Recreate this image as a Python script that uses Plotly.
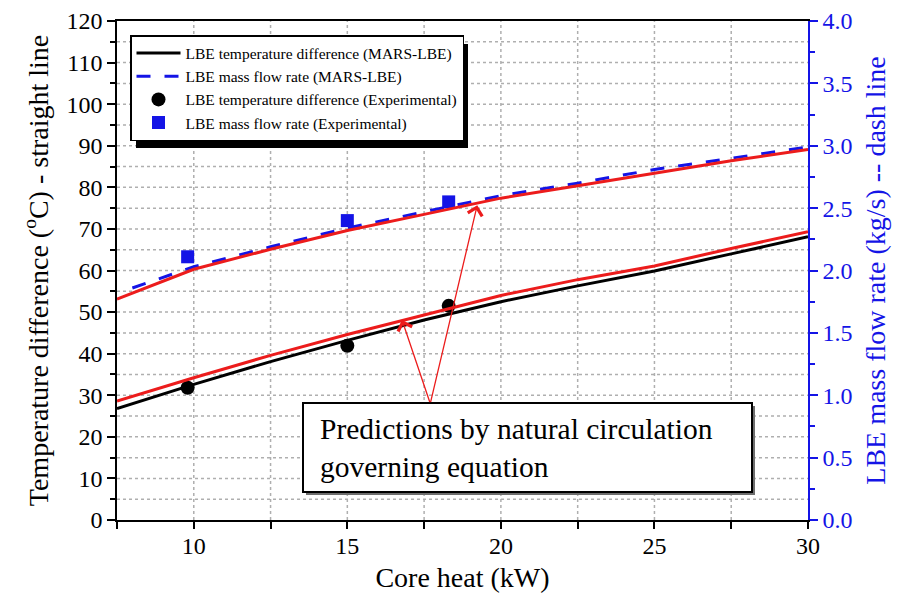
import plotly.graph_objects as go

# ---------------- data ----------------
heat_line = [7.5, 10, 12.5, 15, 17.5, 20, 22.5, 25, 27.5, 30]
mars_temp = [26.8, 32.6, 38.1, 43.2, 48.1, 52.5, 56.3, 59.9, 64.0, 68.1]
pred_temp = [28.6, 34.2, 39.6, 44.6, 49.3, 54.0, 57.8, 61.1, 65.3, 69.3]
pred_flow = [1.77, 2.01, 2.17, 2.32, 2.45, 2.58, 2.68, 2.78, 2.88, 2.97]

heat_mars_flow = [8.0, 10, 12.5, 15, 17.5, 20, 22.5, 25, 27.5, 30]
mars_flow = [1.86, 2.03, 2.19, 2.34, 2.47, 2.60, 2.70, 2.81, 2.90, 2.99]

heat_exp = [9.8, 15.0, 18.3]
exp_temp = [31.8, 41.9, 51.5]
exp_flow = [2.11, 2.40, 2.55]

names = [
    "LBE temperature difference (MARS-LBE)",
    "LBE mass flow rate (MARS-LBE)",
    "LBE temperature difference (Experimental)",
    "LBE mass flow rate (Experimental)",
]

# axis ranges / grid spacing
X_RANGE = [7.5, 30]
Y_RANGE = [0, 120]
X_GRID_STEP = 2.5
Y_GRID_STEP = 5

FONT = "Liberation Serif, Times New Roman, serif"
BLUE = "rgb(20,20,230)"
RED = "rgb(236,28,28)"
GRID = "rgb(175,175,175)"

fig = go.Figure()

# dotted grid, drawn on the axes' own scales underneath the data
n_x = int(round((X_RANGE[1] - X_RANGE[0]) / X_GRID_STEP))
n_y = int(round((Y_RANGE[1] - Y_RANGE[0]) / Y_GRID_STEP))
gxs, gys = [], []
for i in range(1, n_x):
    gx = X_RANGE[0] + i * X_GRID_STEP
    gxs += [gx, gx, None]
    gys += [Y_RANGE[0], Y_RANGE[1], None]
for j in range(1, n_y):
    gy = Y_RANGE[0] + j * Y_GRID_STEP
    gxs += [X_RANGE[0], X_RANGE[1], None]
    gys += [gy, gy, None]
fig.add_trace(go.Scatter(x=gxs, y=gys, mode="lines", showlegend=False,
                         hoverinfo="skip", connectgaps=False,
                         line=dict(color=GRID, width=1.5, dash="3px,3px")))

fig.add_trace(go.Scatter(x=heat_line, y=mars_temp, mode="lines", name=names[0],
                         line=dict(color="black", width=3)))
fig.add_trace(go.Scatter(x=heat_mars_flow, y=mars_flow, mode="lines", name=names[1],
                         yaxis="y2", line=dict(color=BLUE, width=3, dash="14px,14px")))
fig.add_trace(go.Scatter(x=heat_exp, y=exp_temp, mode="markers", name=names[2],
                         marker=dict(color="black", size=14, symbol="circle")))
fig.add_trace(go.Scatter(x=heat_exp, y=exp_flow, mode="markers", name=names[3],
                         yaxis="y2", marker=dict(color=BLUE, size=13, symbol="square")))
fig.add_trace(go.Scatter(x=heat_line, y=pred_temp, mode="lines", showlegend=False,
                         line=dict(color=RED, width=3)))
fig.add_trace(go.Scatter(x=heat_line, y=pred_flow, mode="lines", showlegend=False,
                         yaxis="y2", line=dict(color=RED, width=3)))

L, R, T, B = 117, 97, 21, 83
W, H = 905, 603
PW, PH = W - L - R, H - T - B


def px(x):
    return (x - L) / PW


def py(y):
    return (H - B - y) / PH


fig.update_layout(
    template="none",
    width=W, height=H,
    margin=dict(l=L, r=R, t=T, b=B),
    paper_bgcolor="white", plot_bgcolor="white",
    font=dict(family=FONT, color="black", size=24),
    xaxis=dict(
        range=X_RANGE, dtick=5, tick0=0,
        showline=True, linecolor="black", linewidth=1.5, mirror=True,
        ticks="outside", ticklen=7, tickwidth=1.5, tickcolor="black",
        ticklabelstandoff=-4,
        showgrid=False,
        minor=dict(dtick=X_GRID_STEP, ticks="outside", ticklen=7, tickwidth=1.5,
                   tickcolor="black", showgrid=False),
        tickfont=dict(size=24),
        title=dict(text="Core heat (kW)", font=dict(size=28), standoff=10),
        zeroline=False,
    ),
    yaxis=dict(
        range=Y_RANGE, dtick=10,
        showline=True, linecolor="black", linewidth=1.5,
        ticks="outside", ticklen=8, tickwidth=1.5, tickcolor="black",
        showgrid=False,
        minor=dict(dtick=Y_GRID_STEP, ticks="outside", ticklen=5, tickwidth=1.5,
                   tickcolor="black", showgrid=False),
        tickfont=dict(size=24),
        title=dict(text="Temperature difference (<sup>o</sup>C) - straight line",
                   font=dict(size=28), standoff=10),
        zeroline=False,
    ),
    yaxis2=dict(
        range=[0, 4], dtick=0.5, tickformat=".1f",
        overlaying="y", side="right",
        showline=True, linecolor=BLUE, linewidth=1.5,
        ticks="outside", ticklen=8, tickwidth=1.5, tickcolor=BLUE,
        minor=dict(dtick=0.25, ticks="outside", ticklen=5, tickwidth=1.5, tickcolor=BLUE),
        showgrid=False, zeroline=False,
        tickfont=dict(size=24, color=BLUE),
        title=dict(text="LBE mass flow rate (kg/s) -- dash line",
                   font=dict(size=28, color=BLUE), standoff=14),
    ),
    legend=dict(
        x=px(130), y=py(35), xanchor="left", yanchor="top",
        bgcolor="white", bordercolor="black", borderwidth=1.5,
        font=dict(size=15.5, family=FONT), itemwidth=44, tracegroupgap=0,
    ),
    showlegend=True,
)

# legend shadow
fig.add_shape(type="rect", xref="paper", yref="paper",
              x0=px(136), x1=px(468), y0=py(148), y1=py(44),
              fillcolor="black", line=dict(width=0), layer="above")

# text box: shadow, frame
fig.add_shape(type="rect", xref="paper", yref="paper",
              x0=px(306), x1=px(755), y0=py(495), y1=py(406),
              fillcolor="rgb(110,110,110)", line=dict(width=0), layer="above")
fig.add_shape(type="rect", xref="paper", yref="paper",
              x0=px(303), x1=px(752), y0=py(492), y1=py(403),
              fillcolor="white", line=dict(color="black", width=2), layer="above")

# arrows from box to prediction curves
tail_x, tail_y = 17.7, 28.0
for tip_x, tip_y in [(16.78, 48.1), (19.23, 75.7)]:
    fig.add_annotation(x=tip_x, y=tip_y, xref="x", yref="y", ax=tail_x, ay=tail_y,
                       axref="x", ayref="y", text="", showarrow=True,
                       arrowhead=4, arrowsize=2.2, arrowwidth=1.3, arrowcolor=RED)

# text in box
fig.add_annotation(
    xref="paper", yref="paper", x=px(318), y=py(448),
    xanchor="left", yanchor="middle",
    text="Predictions by natural circulation<br>governing equation",
    showarrow=False, align="left",
    font=dict(size=29.5, family=FONT, color="black"),
)

fig.write_html("out.html")
